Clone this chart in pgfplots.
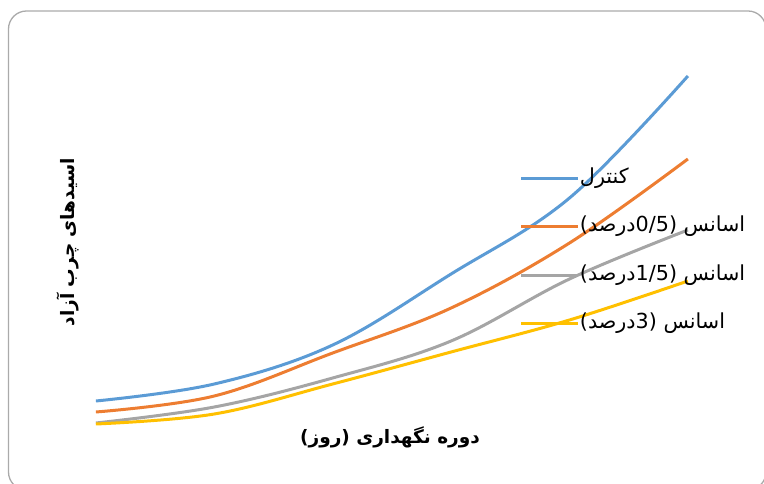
\documentclass[border=0pt]{standalone}
\usepackage{pgfplots}
\pgfplotsset{compat=1.18}
\usepackage{fontspec}
\setmainfont{Liberation Sans}
\newfontfamily\arabicfont[Script=Arabic]{DejaVu Sans}
\TeXXeTstate=1

\definecolor{cBlue}{RGB}{91,155,213}
\definecolor{cOrange}{RGB}{237,125,49}
\definecolor{cGray}{RGB}{165,165,165}
\definecolor{cGold}{RGB}{255,192,0}
\definecolor{cFrame}{RGB}{170,170,170}

\begin{document}
\begin{tikzpicture}[x=1pt,y=1pt]
  \useasboundingbox (0,0) rectangle (764,484);
  \begin{scope}
    \clip (0,0) rectangle (764,484);
    \draw[cFrame, line width=1.3pt, rounded corners=18pt] (8.5,-6) rectangle (766,473);
  \end{scope}

  \begin{axis}[
      at={(81,59)}, anchor=south west,
      scale only axis, width=592pt, height=349pt,
      axis lines=none,
      xmin=0, xmax=50, ymin=0.15, ymax=3.64,
      clip=false,
      every axis plot/.append style={line width=3pt, smooth, tension=0.6, no markers},
      legend image code/.code={\draw[#1, line width=3pt] (0pt,5pt) -- (57pt,5pt);},
      legend style={
        at={(0.716,0.7672)}, anchor=north west,
        draw=none, fill=none, inner sep=0pt, row sep=0pt,
        column sep=0pt,
        nodes={inner sep=0pt, text height=26pt, text depth=22.3pt, anchor=base west},
        font=\arabicfont\fontsize{20.7}{23}\selectfont,
      },
      legend cell align=left,
    ]
    % free fatty acids over the storage period
    \addplot[cBlue] coordinates {(0,0.39) (10,0.56) (20,0.95) (30,1.66) (40,2.42) (50,3.64)};
    \addlegendentry{\beginR کنترل\endR}
    \addplot[cOrange] coordinates {(0,0.28) (10,0.44) (20,0.87) (30,1.32) (40,1.97) (50,2.81)};
    \addlegendentry{\beginR اسانس (0/5درصد)\endR}
    \addplot[cGray] coordinates {(0,0.17) (10,0.33) (20,0.62) (30,0.99) (40,1.61) (50,2.10)};
    \addlegendentry{\beginR اسانس (1/5درصد)\endR}
    \addplot[cGold] coordinates {(0,0.16) (10,0.26) (20,0.56) (30,0.88) (40,1.20) (50,1.59)};
    \addlegendentry{\beginR اسانس (3درصد)\endR}
  \end{axis}

  \node[font=\arabicfont\bfseries\fontsize{18.5}{21}\selectfont] at (390,47)
    {\beginR دوره نگهداری (روز)\endR};
  \node[rotate=90, font=\arabicfont\bfseries\fontsize{18.5}{21}\selectfont] at (68,242)
    {\beginR اسیدهای چرب آزاد\endR};
\end{tikzpicture}
\end{document}
